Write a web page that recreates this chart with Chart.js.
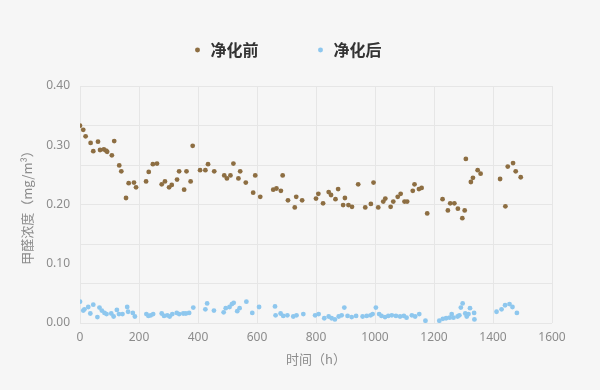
<!DOCTYPE html>
<html>
<head>
<meta charset="utf-8">
<script src="https://cdn.jsdelivr.net/npm/chart.js@4"></script>
<style>
    html, body { margin: 0; padding: 0; background: #f6f6f6; }
    #chart { display: block; }
</style>
</head>
<body>
<canvas id="chart" width="600" height="390"></canvas>
<script>
// 净化前 (h, mg/m3)
var beforeHours = [0, 11, 19, 36, 45, 61, 68, 81, 88, 92, 108, 116, 133, 140, 156, 165, 183, 190,
    224, 233, 247, 261, 277, 288, 302, 311, 329, 336, 353, 361, 375, 382, 407, 425, 434, 455,
    489, 498, 510, 520, 537, 543, 562, 587, 594, 611, 655, 666, 681, 687, 705, 728, 733, 753,
    800, 808, 824, 843, 851, 866, 875, 892, 898, 910, 922, 943, 967, 986, 995, 1011, 1028, 1035,
    1053, 1062, 1077, 1087, 1100, 1109, 1128, 1134, 1149, 1158, 1177, 1229, 1247, 1255, 1269,
    1281, 1296, 1304, 1308, 1325, 1332, 1348, 1358, 1424, 1442, 1450, 1468, 1477, 1494];
var beforeValues = [0.333, 0.326, 0.315, 0.304, 0.290, 0.306, 0.292, 0.293, 0.291, 0.289, 0.283, 0.307,
    0.266, 0.256, 0.211, 0.236, 0.237, 0.229, 0.239, 0.255, 0.268, 0.269, 0.234, 0.239, 0.229, 0.233,
    0.242, 0.256, 0.225, 0.256, 0.239, 0.299, 0.258, 0.258, 0.268, 0.256, 0.249, 0.244, 0.249, 0.269,
    0.244, 0.256, 0.237, 0.220, 0.249, 0.213, 0.225, 0.227, 0.223, 0.249, 0.207, 0.195, 0.213, 0.207,
    0.210, 0.218, 0.202, 0.221, 0.216, 0.209, 0.226, 0.199, 0.211, 0.199, 0.196, 0.234, 0.195, 0.201,
    0.237, 0.195, 0.205, 0.210, 0.196, 0.205, 0.213, 0.218, 0.205, 0.205, 0.223, 0.234, 0.226, 0.228,
    0.185, 0.209, 0.190, 0.202, 0.202, 0.193, 0.177, 0.190, 0.277, 0.238, 0.245, 0.258, 0.252, 0.243,
    0.197, 0.264, 0.270, 0.256, 0.246];

// 净化后
var afterHours = [0, 11, 15, 28, 35, 45, 59, 66, 74, 83, 90, 106, 114, 125, 132, 144, 160, 163, 179, 186,
    225, 232, 240, 248, 277, 285, 296, 304, 313, 328, 336, 350, 359, 370, 384, 425, 431, 454, 487,
    494, 507, 515, 521, 533, 541, 564, 584, 607, 661, 663, 680, 689, 703, 723, 734, 757, 797, 809,
    828, 843, 853, 864, 877, 887, 896, 907, 921, 936, 958, 972, 985, 992, 1003, 1014, 1022, 1034,
    1045, 1057, 1071, 1085, 1098, 1107, 1125, 1136, 1150, 1171, 1218, 1230, 1241, 1253, 1260, 1266,
    1280, 1286, 1291, 1297, 1306, 1311, 1317, 1322, 1336, 1337, 1412, 1429, 1441, 1456, 1466, 1481];
var afterValues = [0.036, 0.021, 0.023, 0.027, 0.016, 0.031, 0.010, 0.026, 0.021, 0.017, 0.015, 0.016,
    0.011, 0.022, 0.015, 0.015, 0.027, 0.019, 0.017, 0.011, 0.015, 0.012, 0.013, 0.015, 0.016, 0.012,
    0.013, 0.011, 0.015, 0.017, 0.015, 0.016, 0.016, 0.017, 0.026, 0.023, 0.033, 0.021, 0.018, 0.025,
    0.027, 0.032, 0.034, 0.020, 0.025, 0.036, 0.017, 0.027, 0.028, 0.013, 0.016, 0.012, 0.013, 0.011,
    0.013, 0.015, 0.013, 0.015, 0.008, 0.011, 0.008, 0.006, 0.011, 0.013, 0.026, 0.012, 0.010, 0.012,
    0.011, 0.012, 0.013, 0.015, 0.026, 0.015, 0.012, 0.010, 0.012, 0.013, 0.012, 0.011, 0.012, 0.009,
    0.013, 0.011, 0.015, 0.004, 0.004, 0.007, 0.008, 0.009, 0.015, 0.009, 0.011, 0.013, 0.026, 0.033,
    0.016, 0.011, 0.015, 0.025, 0.017, 0.006, 0.019, 0.023, 0.030, 0.032, 0.027, 0.017];

var seriesNames = ['净化前', '净化后'];
var xTitle = '时间（h）';
var yTitle = '甲醛浓度（mg/m³）';

function toPoints(xs, ys) {
    var out = [];
    for (var i = 0; i < xs.length; i++) out.push({ x: xs[i], y: ys[i] });
    return out;
}

var tickFont = { family: '"Noto Sans", "Open Sans", sans-serif', size: 12 };
var titleFont = { family: '"Noto Sans CJK SC", sans-serif', size: 13 };
var gridColor = '#e6e6e6';

new Chart(document.getElementById('chart'), {
    type: 'scatter',
    data: {
        datasets: [{
            label: seriesNames[0],
            data: toPoints(beforeHours, beforeValues),
            backgroundColor: '#8d6e42',
            borderWidth: 0,
            pointRadius: 2.4
        }, {
            label: seriesNames[1],
            data: toPoints(afterHours, afterValues),
            backgroundColor: '#8ec7ee',
            borderWidth: 0,
            pointRadius: 2.4
        }]
    },
    options: {
        responsive: false,
        animation: false,
        layout: { padding: { top: -15, left: 22, right: 48, bottom: 0 } },
        plugins: {
            tooltip: { enabled: false },
            legend: {
                position: 'top',
                labels: {
                    usePointStyle: true,
                    pointStyle: 'circle',
                    boxWidth: 10,
                    boxHeight: 3.5,
                    padding: 57,
                    color: '#333333',
                    font: { family: '"Noto Sans CJK SC", sans-serif', size: 16, weight: 'bold' }
                }
            }
        },
        scales: {
            x: {
                type: 'linear',
                min: 0,
                max: 1600,
                afterFit: function(axis) { axis.height = 67; },
                ticks: {
                    stepSize: 200,
                    padding: 7,
                    color: '#8c8c8c',
                    font: tickFont,
                    callback: function(v) { return String(v); }
                },
                grid: { color: gridColor, drawTicks: false },
                border: { display: false },
                title: {
                    display: true,
                    text: xTitle,
                    color: '#8c8c8c',
                    font: titleFont,
                    padding: { top: 0, bottom: 23 }
                }
            },
            // empty band between legend and plot
            xTop: {
                type: 'linear',
                position: 'top',
                min: 0,
                max: 1600,
                afterFit: function(axis) { axis.height = 18; },
                ticks: { display: false },
                grid: { display: false, drawTicks: false },
                border: { display: false }
            },
            y: {
                min: 0,
                max: 0.4,
                afterFit: function(axis) { axis.width = 58; },
                ticks: {
                    stepSize: 0.1,
                    padding: 10,
                    color: '#8c8c8c',
                    font: tickFont,
                    callback: function(v) { return v.toFixed(2); }
                },
                grid: { display: false, drawTicks: false },
                border: { display: false },
                title: {
                    display: true,
                    text: yTitle,
                    color: '#8c8c8c',
                    font: titleFont,
                    padding: { top: -3, bottom: 0 }
                }
            },
            // horizontal grid: 6 bands over the same range
            yGrid: {
                position: 'left',
                min: 0,
                max: 6,
                afterFit: function(axis) { axis.width = 0; },
                ticks: { display: false, stepSize: 1 },
                grid: { color: gridColor, drawTicks: false },
                border: { display: false }
            }
        }
    }
});
</script>
</body>
</html>
